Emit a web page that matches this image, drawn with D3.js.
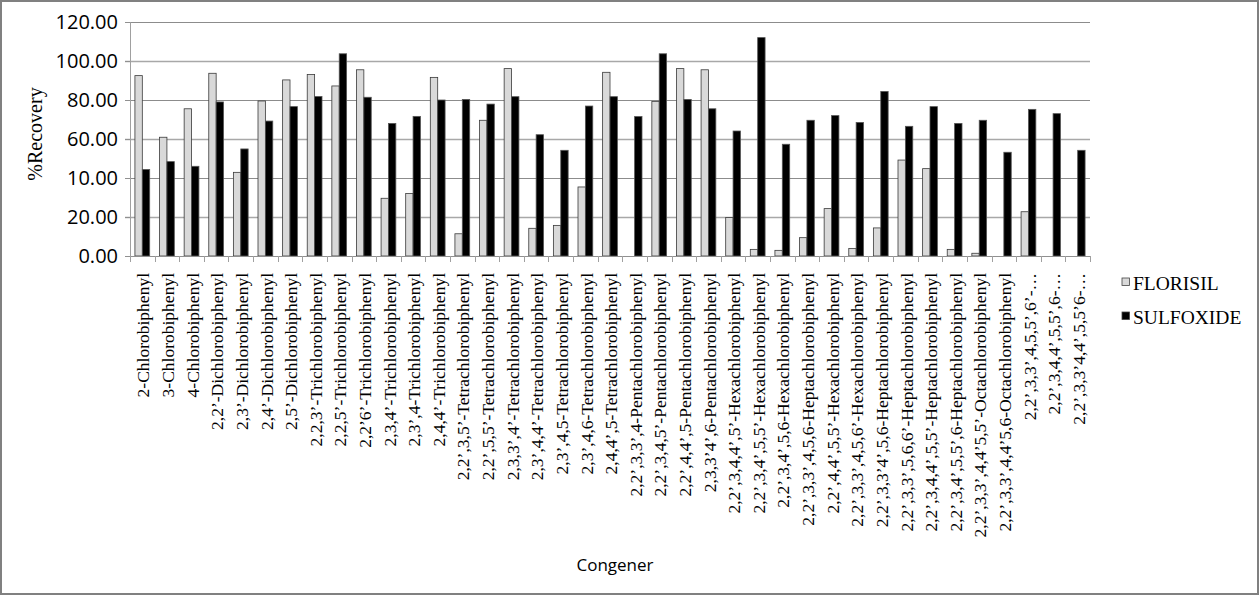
<!DOCTYPE html>
<html>
<head>
<meta charset="utf-8">
<script src="https://cdn.jsdelivr.net/npm/d3@7"></script>
<style>
  body { margin: 0; background: #fff; }
  svg { display: block; }
  .serif { font-family: "Liberation Serif", "Times New Roman", Times, "DejaVu Serif", serif; }
  .sans { font-family: "Open Sans", "Noto Sans", sans-serif; }
</style>
</head>
<body>
<svg id="chart" width="1260" height="596"></svg>
<script>
var congeners = [
  "2-Chlorobiphenyl", "3-Chlorobiphenyl", "4-Chlorobiphenyl",
  "2,2’-Dichlorobiphenyl", "2,3’-Dichlorobiphenyl", "2,4’-Dichlorobiphenyl", "2,5’-Dichlorobiphenyl",
  "2,2,3’-Trichlorobiphenyl", "2,2,5’-Trichlorobiphenyl", "2,2’6’-Trichlorobiphenyl",
  "2,3,4’-Trichlorobiphenyl", "2,3’,4-Trichlorobiphenyl", "2,4,4’-Trichlorobiphenyl",
  "2,2’,3,5’-Tetrachlorobiphenyl", "2,2’,5,5’-Tetrachlorobiphenyl", "2,3,3’,4’-Tetrachlorobiphenyl",
  "2,3’,4,4’-Tetrachlorobiphenyl", "2,3’,4,5-Tetrachlorobiphenyl", "2,3’,4,6-Tetrachlorobiphenyl",
  "2,4,4’,5-Tetrachlorobiphenyl",
  "2,2’,3,3’,4-Pentachlorobiphenyl", "2,2’,3,4,5’-Pentachlorobiphenyl", "2,2’,4,4’,5-Pentachlorobiphenyl",
  "2,3,3’4’,6-Pentachlorobiphenyl",
  "2,2’,3,4,4’,5’-Hexachlorobiphenyl", "2,2’,3,4’,5,5’-Hexachlorobiphenyl", "2,2’,3,4’,5,6-Hexachlorobiphenyl",
  "2,2’,3,3’,4,5,6-Heptachlorobiphenyl", "2,2’,4,4’,5,5’-Hexachlorobiphenyl", "2,2’,3,3’,4,5,6’-Hexachlorobiphenyl",
  "2,2’,3,3’4’,5,6-Heptachlorobiphenyl", "2,2’,3,3’,5,6,6’-Heptachlorobiphenyl", "2,2’,3,4,4’,5,5’-Heptachlorobiphenyl",
  "2,2’,3,4’,5,5’,6-Heptachlorobiphenyl",
  "2,2’,3,3’,4,4’5,5’-Octachlorobiphenyl", "2,2’,3,3’,4,4’5,6-Octachlorobiphenyl",
  "2,2’,3,3’,4,5,5’,6’-…", "2,2’,3,4,4’,5,5’,6-…", "2,2’,3,3’4,4’,5,5’6-…"
];

var florisil = [
  92.5, 60.9, 75.5, 93.7, 42.9, 79.5, 90.3, 93.1, 87.2, 95.5,
  29.6, 32.1, 91.6, 11.4, 69.6, 96.1, 14.2, 15.7, 35.4, 94.2,
  0, 79.3, 96.1, 95.5, 19.7, 3.4, 2.9, 9.4, 24.3, 3.9,
  14.4, 49.2, 44.8, 3.4, 1.4, 0, 22.7, 0, 0
];

var sulfoxide = [
  44.4, 48.4, 46.0, 79.0, 54.9, 69.2, 76.6, 81.8, 103.7, 81.4,
  68.0, 71.6, 80.0, 80.3, 77.9, 81.7, 62.2, 54.2, 76.9, 81.7,
  71.5, 103.7, 80.3, 75.5, 64.1, 112.0, 57.3, 69.6, 72.0, 68.5,
  84.4, 66.5, 76.6, 68.0, 69.6, 53.2, 75.2, 73.0, 54.2
];

var seriesNames = ["FLORISIL", "SULFOXIDE"];
var seriesColors = ["#d9d9d9", "#000000"];

var yTicks = [0, 20, 40, 60, 80, 100, 120];
var yTickLabels = ["0.00", "20.00", "10.00", "60.00", "80.00", "100.00", "120.00"];

var svg = d3.select("#chart");

// outer frame
svg.append("rect")
  .attr("x", 1).attr("y", 1)
  .attr("width", 1257).attr("height", 593)
  .attr("fill", "#fff")
  .attr("stroke", "#808080")
  .attr("stroke-width", 2);

var plot = { left: 130, right: 1090, top: 22, bottom: 256 };

var x = d3.scaleBand()
  .domain(congeners)
  .range([plot.left, plot.right])
  .paddingInner(0.4)
  .paddingOuter(0.2);

var xs = d3.scaleBand()
  .domain(seriesNames)
  .range([0, x.bandwidth()]);

var y = d3.scaleLinear()
  .domain([0, 120])
  .range([plot.bottom, plot.top]);

// gridlines
svg.append("g")
  .selectAll("line")
  .data(yTicks.slice(1))
  .join("line")
  .attr("x1", plot.left - 5)
  .attr("x2", plot.right)
  .attr("y1", d => Math.round(y(d)) + 0.5)
  .attr("y2", d => Math.round(y(d)) + 0.5)
  .attr("stroke", (d, i) => i % 2 == 0 ? "#a8a8a8" : "#8c8c8c")
  .attr("stroke-width", (d, i) => i % 2 == 0 ? 1.6 : 1);

// y axis
var yAxis = svg.append("g")
  .attr("transform", "translate(" + plot.left + ",0)")
  .call(d3.axisLeft(y)
    .tickValues(yTicks)
    .tickFormat((d, i) => yTickLabels[i])
    .tickSize(5)
    .tickPadding(7));
yAxis.attr("font-family", null).attr("font-size", null);
yAxis.select(".domain").attr("stroke", "#a0a0a0");
yAxis.selectAll(".tick line").attr("stroke", "#909090");
yAxis.selectAll("text")
  .attr("class", "sans")
  .attr("font-size", 20)
  .attr("fill", "#000");

// bars
var rows = congeners.map((c, i) => ({ name: c, values: [florisil[i], sulfoxide[i]] }));

var groups = svg.append("g")
  .selectAll("g")
  .data(rows)
  .join("g")
  .attr("transform", d => "translate(" + x(d.name) + ",0)");

groups.selectAll("rect")
  .data(d => d.values.map((v, k) => ({ key: seriesNames[k], value: v, k: k })))
  .join("rect")
  .filter(d => d.value > 0)
  .attr("x", d => xs(d.key))
  .attr("y", d => y(d.value))
  .attr("width", xs.bandwidth())
  .attr("height", d => y(0) - y(d.value))
  .attr("fill", d => seriesColors[d.k])
  .attr("stroke", d => d.k == 0 ? "#3a3a3a" : "#555")
  .attr("stroke-width", 0.8);

// x axis line and ticks at category boundaries
svg.append("line")
  .attr("x1", plot.left).attr("x2", plot.right)
  .attr("y1", plot.bottom + 0.5).attr("y2", plot.bottom + 0.5)
  .attr("stroke", "#909090");

var edges = congeners.map(c => x(c) - x.step() * x.paddingInner() / 2);
edges.push(plot.right);
svg.append("g")
  .selectAll("line")
  .data(edges)
  .join("line")
  .attr("x1", d => Math.round(d) + 0.5)
  .attr("x2", d => Math.round(d) + 0.5)
  .attr("y1", plot.bottom)
  .attr("y2", plot.bottom + 6)
  .attr("stroke", "#a0a0a0");

// category labels
svg.append("g")
  .selectAll("text")
  .data(congeners)
  .join("text")
  .attr("class", "serif")
  .attr("transform", d => "translate(" + (x(d) + x.bandwidth() / 2 + 1) + "," + 273 + ") rotate(-90)")
  .attr("dy", "0.35em")
  .attr("text-anchor", "end")
  .attr("font-size", 17.5)
  .text(d => d);

// axis titles
svg.append("text")
  .attr("class", "serif")
  .attr("transform", "translate(42,134) rotate(-90)")
  .attr("text-anchor", "middle")
  .attr("font-size", 20)
  .text("%Recovery");

svg.append("text")
  .attr("class", "sans")
  .attr("x", 615)
  .attr("y", 571)
  .attr("text-anchor", "middle")
  .attr("font-size", 17)
  .text("Congener");

// legend
var legend = svg.append("g")
  .selectAll("g")
  .data(seriesNames)
  .join("g")
  .attr("transform", (d, i) => "translate(1122," + (278 + i * 34) + ")");

legend.append("rect")
  .attr("width", 7.5).attr("height", 7.5)
  .attr("fill", (d, i) => seriesColors[i])
  .attr("stroke", "#444")
  .attr("stroke-width", 0.8);

legend.append("text")
  .attr("class", "serif")
  .attr("x", 11)
  .attr("y", 12)
  .attr("font-size", 19.5)
  .text(d => d);
</script>
</body>
</html>
